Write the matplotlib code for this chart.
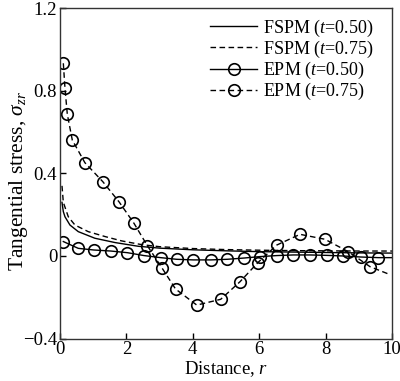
import matplotlib
matplotlib.use("Agg")
import matplotlib.pyplot as plt
from matplotlib.ticker import FixedLocator, FuncFormatter

plt.rcParams['font.family'] = ['Liberation Serif', 'DejaVu Serif']
plt.rcParams['mathtext.fontset'] = 'custom'
plt.rcParams['mathtext.rm'] = 'Liberation Serif'
plt.rcParams['mathtext.it'] = 'Liberation Serif:italic'
plt.rcParams['mathtext.bf'] = 'Liberation Serif:bold'

# FSPM curves
fspm50_x = [0.06, 0.1, 0.15, 0.3, 0.55, 1.05, 1.66, 2.36, 3, 4, 5, 6, 7, 8, 9, 10]
fspm50_y = [0.26, 0.215, 0.19, 0.15, 0.118, 0.086, 0.065, 0.047, 0.038, 0.03, 0.025, 0.021, 0.019, 0.017, 0.015, 0.014]
fspm75_x = [0.06, 0.1, 0.25, 0.45, 0.85, 1.36, 1.86, 2.46, 3, 4, 5, 6, 7, 8, 9, 10]
fspm75_y = [0.34, 0.26, 0.19, 0.15, 0.118, 0.094, 0.073, 0.055, 0.045, 0.036, 0.031, 0.028, 0.026, 0.025, 0.024, 0.024]

# EPM t=0.50
epm50_x = [0.1, 0.55, 1.02, 1.53, 2.03, 2.53, 3.03, 3.51, 4.02, 4.54, 5.04, 5.54, 6.02, 6.53, 7.03, 7.53, 8.03, 8.53, 9.06, 9.59, 10.0]
epm50_y = [0.07, 0.037, 0.029, 0.024, 0.016, 0.002, -0.008, -0.016, -0.019, -0.019, -0.016, -0.01, -0.003, 0.002, 0.005, 0.005, 0.003, 0.0, -0.005, -0.008, -0.008]

# EPM t=0.75
epm75_x = [0.1, 0.15, 0.22, 0.37, 0.75, 1.29, 1.78, 2.23, 2.63, 3.08, 3.48, 4.12, 4.84, 5.42, 5.96, 6.53, 7.23, 7.98, 8.68, 9.34, 9.92]
epm75_y = [0.934, 0.813, 0.687, 0.562, 0.452, 0.36, 0.262, 0.158, 0.05, -0.06, -0.16, -0.238, -0.21, -0.125, -0.032, 0.053, 0.105, 0.081, 0.021, -0.052, -0.089]

xticks = [0, 2, 4, 6, 8, 10]
yticks = [-0.4, 0, 0.4, 0.8, 1.2]

fig = plt.figure(figsize=(4.0, 3.81), dpi=100)
ax = fig.add_axes([0.15, 0.1115, 0.83, 0.8665])

dash = (0, (4, 2.5))
ax.plot(fspm50_x, fspm50_y, color='black', lw=1.0, ls='-', label=r'FSPM ($t$=0.50)')
ax.plot(fspm75_x, fspm75_y, color='black', lw=1.0, ls=dash, label=r'FSPM ($t$=0.75)')
ax.plot(epm50_x, epm50_y, color='black', lw=1.0, ls='-', marker='o', ms=8.3, mfc='none',
        mec='black', mew=1.2, markevery=slice(0, -1), label=r'EPM ($t$=0.50)')
ax.plot(epm75_x, epm75_y, color='black', lw=1.0, ls=dash, marker='o', ms=8.3, mfc='none',
        mec='black', mew=1.2, markevery=slice(0, -1), label=r'EPM ($t$=0.75)')

ax.set_xlim(0, 10)
ax.set_ylim(-0.4, 1.2)
ax.xaxis.set_major_locator(FixedLocator(xticks))
ax.yaxis.set_major_locator(FixedLocator(yticks))

def yfmt(v, pos):
    if abs(v) < 1e-9:
        return '0'
    s = f'{v:.1f}'
    return s.replace('-', '\u2212')

ax.yaxis.set_major_formatter(FuncFormatter(yfmt))
ax.xaxis.set_major_formatter(FuncFormatter(lambda v, p: f'{int(round(v))}'))

ax.tick_params(direction='in', length=4, width=1, labelsize=13.5, top=False, right=False, pad=2)
for s in ax.spines.values():
    s.set_linewidth(1.0)
    s.set_color('#333333')

ax.set_xlabel(r'Distance, $r$', fontsize=13.5, labelpad=1)
ax.set_ylabel(r'Tangential stress, $\sigma_{zr}$', fontsize=15.5)
ax.yaxis.set_label_coords(-0.09, 0.477)

leg = ax.legend(loc='upper left', bbox_to_anchor=(0.452, 0.972), frameon=False, fontsize=13,
                borderpad=0, borderaxespad=0, handlelength=2.6, handletextpad=0.35,
                labelspacing=0.0, numpoints=1)

fig.savefig('out.png', dpi=100)
